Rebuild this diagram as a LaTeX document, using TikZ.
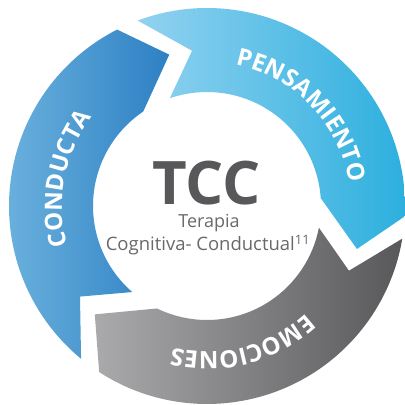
\documentclass[tikz,border=0pt]{standalone}
\usepackage{fontspec}
\setmainfont{Open Sans}
\usetikzlibrary{decorations.text}
\definecolor{pensL}{RGB}{146,210,240}
\definecolor{pensR}{RGB}{44,175,222}
\definecolor{condL}{RGB}{108,178,222}
\definecolor{condR}{RGB}{45,128,196}
\definecolor{emoL}{RGB}{170,170,172}
\definecolor{emoR}{RGB}{88,88,90}
\definecolor{tccgray}{RGB}{88,88,90}
\definecolor{subgray}{RGB}{105,105,107}
\tikzset{
  ringlabel/.style={decorate, decoration={text along path, text align=center,
      text color=white, text={|\bfseries\fontsize{24}{24}\selectfont|#1}}}
}
\begin{document}
\begin{tikzpicture}[x=1pt,y=1pt]
\useasboundingbox (0,0) rectangle (405,405);
\begin{scope}[shift={(207,199)}]
  % PENSAMIENTO arrow (top right)
  \shade[left color=pensL, right color=pensR]
    (110.5:198) arc[start angle=110.5, end angle=-3, radius=198]
    -- (-16:156) -- (4:114) arc[start angle=4, end angle=109, radius=114]
    -- (95.5:156) -- cycle;
  % EMOCIONES arrow (bottom)
  \shade[left color=emoL, right color=emoR]
    (-9.5:198) arc[start angle=-9.5, end angle=-123, radius=198]
    -- (-136:156) -- (-116:114) arc[start angle=-116, end angle=-11, radius=114]
    -- (-24.5:156) -- cycle;
  % CONDUCTA arrow (left)
  \shade[left color=condL, right color=condR]
    (-129.5:198) arc[start angle=-129.5, end angle=-243, radius=198]
    -- (-256:156) -- (-236:114) arc[start angle=-236, end angle=-131, radius=114]
    -- (-144.5:156) -- cycle;
  % labels running clockwise along the ring
  \path[ringlabel=PENSAMIENTO] (100:144) arc[start angle=100, end angle=-12, radius=144];
  \path[ringlabel=EMOCIONES] (-20:146) arc[start angle=-20, end angle=-131, radius=146];
  \path[ringlabel=CONDUCTA] (225:145) arc[start angle=225, end angle=113, radius=145];
\end{scope}
% centre title
\node[anchor=base, inner sep=0pt, text=tccgray, font=\bfseries\fontsize{60}{60}\selectfont] (tcc) at (206.5,200) {TCC};
\node[anchor=base, inner sep=0pt, text=subgray, font=\fontsize{18}{18}\selectfont] (ter) at (209,177) {Terapia};
\node[anchor=base, inner sep=0pt, text=subgray, font=\fontsize{18.5}{18.5}\selectfont] (cc) at (208,154) {Cognitiva- Conductual\textsuperscript{11}};
\end{tikzpicture}
\end{document}
